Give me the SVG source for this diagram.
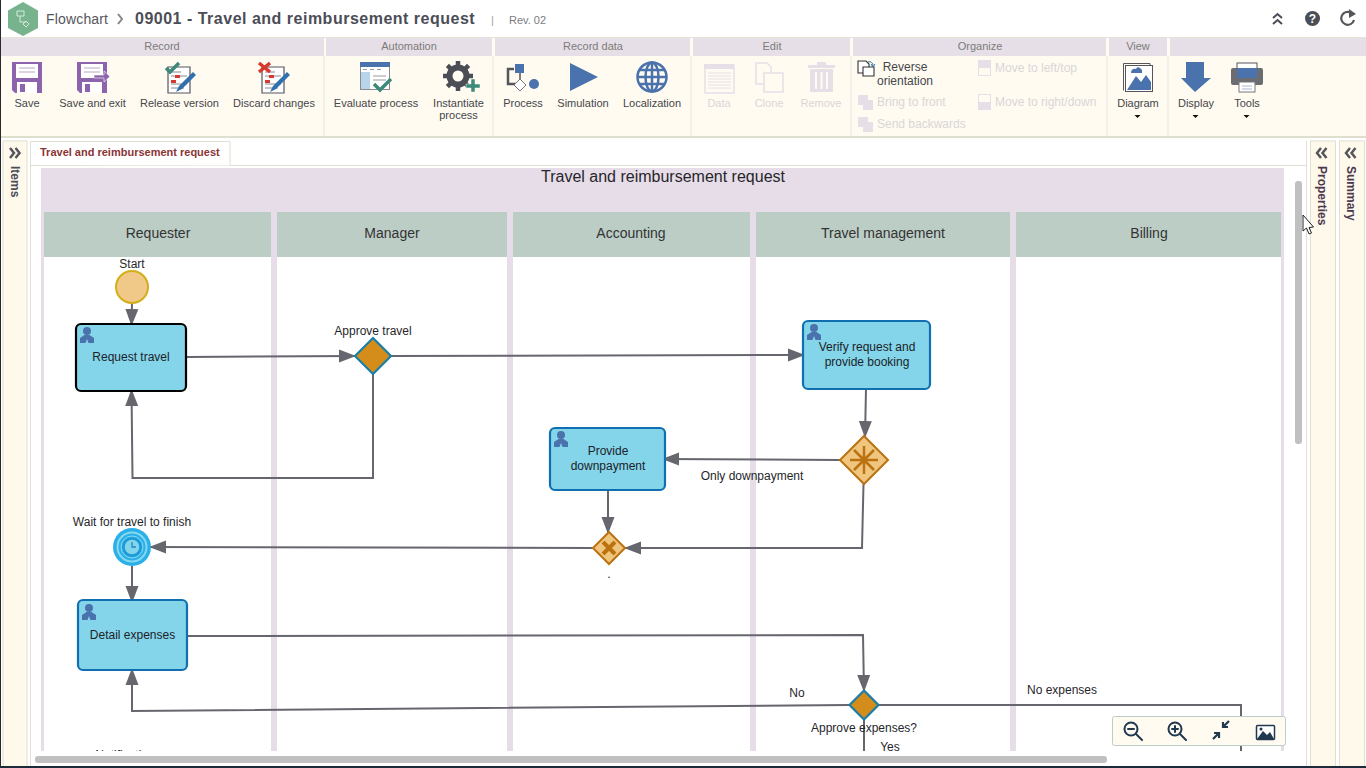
<svg xmlns="http://www.w3.org/2000/svg" xmlns:xlink="http://www.w3.org/1999/xlink" width="1366" height="768" viewBox="0 0 1366 768">
<style>
text{font-family:"Liberation Sans",Arial,sans-serif}
.hd{font-size:11px;fill:#7c7c78;text-anchor:middle}
.tb{font-size:11px;fill:#45464c;text-anchor:middle}
.dis{font-size:11px;fill:#d9d6d8;}
.dis2{font-size:11px;fill:#d9d6d8;text-anchor:middle}
.lane{font-size:14px;fill:#333;text-anchor:middle}
.lb{font-size:12px;fill:#26262a;text-anchor:middle}
.nl{font-size:12px;fill:#1c2228;text-anchor:middle}
.task{fill:#84d5ea;stroke:#0f6fb0;stroke-width:2.2}
.gw{fill:#d48c1a;stroke:#1a7fa8;stroke-width:2.2}
.gw2{fill:#f0c57e;stroke:#bb7211;stroke-width:2}
.cn{fill:none;stroke:#66666e;stroke-width:2;stroke-linejoin:miter}
.blue{fill:#4a72ad}
.pur{fill:#8e63ad}
.gd{fill:#e6dfe8}
.side{fill:#fff9ec;stroke:#e0e0d2}
.zi{fill:none;stroke:#21394f;stroke-width:2;stroke-linecap:round}
</style>
<defs>
<marker id="ar" markerUnits="userSpaceOnUse" markerWidth="19" markerHeight="15" refX="17" refY="7" orient="auto"><path d="M0 0.500L17 7L0 13.500Z" fill="#66666e"/></marker>
<clipPath id="cv"><rect x="30" y="166" width="1262" height="585"/></clipPath>
<g id="person"><circle cx="7" cy="4" r="4" fill="#4a72ad"/><path d="M0 16V11L4.500 8H9.500L14 11V16H8.500L7 12L5.500 16Z" fill="#4a72ad"/></g>
<g id="doc"><path d="M2 6H24V32H2Z" fill="#fff" stroke="#55565c" stroke-width="1.200"/><path d="M5 11H15M5 15H11M13 15H21M5 23H21M5 27H18" stroke="#8a8a90" fill="none"/><rect x="9" y="14" width="5" height="3" fill="#d8392e"/><rect x="5" y="19" width="5" height="3" fill="#d8392e"/><path d="M10 31L13 25L27 11L30 14L16 28Z" fill="#2f70ad"/></g>
<g id="floppy"><path d="M0 0H30V31H3L0 28Z" class="pur"/><rect x="4" y="2" width="22" height="14" fill="#fff"/><path d="M7 6H23M7 10H23" stroke="#b9a7c6"/><rect x="5" y="20" width="20" height="11" fill="#fff"/><rect x="8" y="22" width="5" height="8" class="pur"/></g>
</defs>

<rect width="1366" height="768" fill="#fff"/>

<g id="titlebar">
<path d="M23 2L38 10.500V28L23 36L8 28V10.500Z" fill="#77b48d"/>
<path d="M17 11H24V16H17ZM20 16V22H26M23 24L26 21L29 24L26 27Z" fill="none" stroke="#d5ebdc"/>
<text x="46" y="24" font-size="14" fill="#55565c" textLength="62">Flowchart</text>
<path d="M118 14L122 19L118 24" fill="none" stroke="#85858a" stroke-width="2"/>
<text x="135" y="24" font-size="16" font-weight="bold" fill="#4b4d57" letter-spacing=".5">09001 - Travel and reimbursement request</text>
<text x="491" y="24" font-size="11" fill="#a0a4a0">|</text>
<text x="509" y="24" font-size="11" fill="#7c7c80">Rev. 02</text>
<path d="M1273 18L1277.500 14L1282 18M1273 24L1277.500 20L1282 24" fill="none" stroke="#4b4d57" stroke-width="2"/>
<circle cx="1312.500" cy="18.500" r="7.500" fill="#4b4d57"/>
<text x="1312.500" y="23" font-size="12" font-weight="bold" fill="#fff" text-anchor="middle">?</text>
<path d="M1354 20A6.500 6.500 0 1 1 1351.500 13" fill="none" stroke="#55565c" stroke-width="2.200"/>
<path d="M1349 9L1356 14L1349 18Z" fill="#55565c"/>
</g>

<g id="ribbon">
<rect x="0" y="37" width="1366" height="100" fill="#fffbf0"/>
<rect x="0" y="37" width="1366" height="1" fill="#e6e4d8"/>
<rect x="0" y="136" width="1366" height="2" fill="#dfdfcf"/>
<g fill="#e6dfe8">
<rect x="1" y="38" width="323" height="18"/><rect x="326" y="38" width="166" height="18"/><rect x="495" y="38" width="195" height="18"/><rect x="693" y="38" width="157" height="18"/><rect x="853" y="38" width="253" height="18"/><rect x="1109" y="38" width="58" height="18"/><rect x="1170" y="38" width="196" height="18"/>
</g>
<g fill="#e8e6e4">
<rect x="323.500" y="56" width="1" height="80"/><rect x="492.500" y="56" width="1" height="80"/><rect x="690.500" y="56" width="1" height="80"/><rect x="850.500" y="56" width="1" height="80"/><rect x="1106.500" y="56" width="1" height="80"/><rect x="1167.500" y="56" width="1" height="80"/>
</g>
<text class="hd" x="162" y="50">Record</text>
<text class="hd" x="409" y="50">Automation</text>
<text class="hd" x="593" y="50">Record data</text>
<text class="hd" x="772" y="50">Edit</text>
<text class="hd" x="980" y="50">Organize</text>
<text class="hd" x="1138" y="50">View</text>

<use xlink:href="#floppy" x="12" y="62"/>
<use xlink:href="#floppy" x="77" y="62"/>
<path d="M94 75H104V71L110 76.500L104 82V78H94Z" fill="#8e63ad" stroke="#fff" stroke-width=".6"/>
<use xlink:href="#doc" x="166" y="61"/>
<path d="M166 68L170 72L179 63" fill="none" stroke="#3d8a7a" stroke-width="3.500"/>
<use xlink:href="#doc" x="260" y="61"/>
<path d="M259 63L270 72M270 63L259 72" fill="none" stroke="#d8392e" stroke-width="3.500"/>
<text class="tb" x="27" y="107">Save</text>
<text class="tb" x="92.500" y="107">Save and exit</text>
<text class="tb" x="179.500" y="107">Release version</text>
<text class="tb" x="274" y="107">Discard changes</text>

<rect x="360.500" y="62.500" width="29" height="27" fill="#fff" stroke="#8a8a90"/>
<rect x="360" y="62" width="30" height="5" fill="#4a72ad"/>
<rect x="361" y="72" width="9" height="17" fill="#b8d4ea"/>
<path d="M363 69.500H367M370 69.500H374M377 69.500H381M373 76H386M373 80H386" stroke="#9a9aa0"/>
<path d="M374 84L380 90L391 79" fill="none" stroke="#3d8a7a" stroke-width="3.500"/>
<g transform="translate(458 76)"><path d="M0-15V15M-15 0H15M-10.600-10.600L10.600 10.600M-10.600 10.600L10.600-10.600" stroke="#4b4d57" stroke-width="4.500"/><circle r="8.500" fill="none" stroke="#4b4d57" stroke-width="6"/><circle r="5.500" fill="#fffbf0"/></g>
<path d="M466 84H471V79H475V84H480V88H475V92H471V88H466Z" fill="#3d8a7a" stroke="#fffbf0" stroke-width=".5"/>
<text class="tb" x="376" y="107">Evaluate process</text>
<text class="tb" x="458.500" y="107">Instantiate</text>
<text class="tb" x="458.500" y="119">process</text>

<path d="M514 69H508V84H519" fill="none" stroke="#55565c" stroke-width="2.500"/>
<rect x="515" y="64" width="9" height="9" class="blue"/>
<path d="M520 73V80" stroke="#55565c" stroke-width="1.500"/>
<path d="M520 79L526 85L520 91L514 85Z" fill="#fff" stroke="#77777c"/>
<circle cx="534" cy="84" r="5" class="blue"/>
<path d="M570 63L598 77L570 91Z" class="blue"/>
<g transform="translate(652 77)" fill="none" stroke="#4a72ad" stroke-width="2.500"><circle r="14.500"/><ellipse rx="6.500" ry="14.500"/><path d="M0-14.500V14.500M-14.500 0H14.500M-12.500-7H12.500M-12.500 7H12.500"/></g>
<text class="tb" x="523" y="107">Process</text>
<text class="tb" x="583" y="107">Simulation</text>
<text class="tb" x="652" y="107">Localization</text>

<rect x="705" y="65" width="29" height="28" fill="none" stroke="#e6dfe8" stroke-width="1.500"/>
<rect x="704" y="64" width="30" height="5" class="gd"/>
<path d="M708 73H731M708 76H731M708 79H731M708 82H731M708 85H731M708 88H731" stroke="#e6dfe8"/>
<path d="M756 63H767L771 67V84H756Z" fill="#fffbf0" stroke="#e6dfe8" stroke-width="1.500"/>
<path d="M764 73H775L783 73V92H764Z" fill="#fffbf0" stroke="#e6dfe8" stroke-width="1.500"/>
<path d="M808 65H835V68H808Z" class="gd"/><rect x="817" y="62" width="9" height="3" class="gd"/>
<path d="M810 69H833V92H810Z" class="gd"/>
<path d="M816 72V89M821.500 72V89M827 72V89" stroke="#fffbf0" stroke-width="2"/>
<text class="dis2" x="719" y="107">Data</text>
<text class="dis2" x="769" y="107">Clone</text>
<text class="dis2" x="821" y="107">Remove</text>

<path d="M858 61H866L869 64V73H858Z" fill="#fff" stroke="#333" stroke-width="1.100"/>
<path d="M863 67H874V76H863Z" fill="#fff" stroke="#333" stroke-width="1.100"/>
<path d="M868 62C871 61 873 63 873 66M871 64L873 67L875 64" fill="none" stroke="#2f70ad"/>
<text class="tb" x="905" y="71" style="font-size:12px">Reverse</text>
<text class="tb" x="905" y="85" style="font-size:12px">orientation</text>
<path d="M858 95H868V100H873V110H863V105H858Z" class="gd"/>
<path d="M858 117H868V122H873V132H863V127H858Z" class="gd"/>
<text class="dis" x="877" y="106" style="font-size:12px">Bring to front</text>
<text class="dis" x="877" y="128" style="font-size:12px">Send backwards</text>
<rect x="978.500" y="60.500" width="12" height="15" fill="none" stroke="#e6dfe8"/><rect x="978" y="61" width="12" height="7" class="gd"/>
<rect x="978.500" y="94.500" width="12" height="15" fill="none" stroke="#e6dfe8"/><rect x="978" y="102" width="12" height="8" class="gd"/>
<text class="dis" x="995" y="72" style="font-size:12px">Move to left/top</text>
<text class="dis" x="995" y="106" style="font-size:12px">Move to right/down</text>

<path d="M1123.500 63.500H1150V66" fill="none" stroke="#55565c"/><path d="M1123.500 63.500V90.500" fill="none" stroke="#55565c"/>
<rect x="1125.500" y="65.500" width="27" height="26" fill="#fff" stroke="#55565c"/>
<path d="M1127 90L1136 76L1141 82L1146 75L1151 82V90Z" class="blue"/>
<path d="M1131 73H1142V70C1140 67 1137 66 1136 69C1133 68 1131 70 1131 73Z" class="blue"/>
<path d="M1186 62H1204V78H1211L1195 92L1181 78H1186Z" class="blue"/>
<rect x="1231" y="68" width="32" height="17" rx="2" fill="#6b6c72"/>
<rect x="1237" y="63" width="20" height="6" fill="#fff" stroke="#55565c"/>
<rect x="1237" y="68" width="20" height="10" class="blue"/>
<rect x="1239" y="82" width="16" height="10" fill="#fff" stroke="#77777c"/>
<path d="M1242 86H1252M1242 89H1252" stroke="#a8b4d0"/>
<text class="tb" x="1138" y="107">Diagram</text>
<text class="tb" x="1196" y="107">Display</text>
<text class="tb" x="1247" y="107">Tools</text>
<path d="M1134.500 115H1140.500L1137.500 118Z M1192.500 115H1198.500L1195.500 118Z M1243.500 115H1249.500L1246.500 118Z" fill="#111"/>
</g>

<g id="panels">
<rect class="side" x="3" y="141" width="24" height="627"/>
<path d="M10 148L14 153L10 158M15.500 148L19.500 153L15.500 158" fill="none" stroke="#55565c" stroke-width="2.500"/>
<text transform="translate(11 166) rotate(90)" font-size="12" font-weight="bold" fill="#4b4d57">Items</text>
<path d="M30 165.500H1306" stroke="#e0e0d2"/>
<path d="M30.500 165V141.500H230V165.500" fill="#fff" stroke="#e0e0d2"/>
<text x="40" y="156" font-size="11" font-weight="bold" fill="#8a3535">Travel and reimbursement request</text>
<path d="M30.500 165V768" stroke="#e0e0d2"/>
<path d="M1306.500 141V768" stroke="#e0e0d2"/>
<rect class="side" x="1310.500" y="141" width="25" height="627"/>
<rect class="side" x="1339.500" y="141" width="25" height="627"/>
<path d="M1321 148L1317 153L1321 158M1326.500 148L1322.500 153L1326.500 158" fill="none" stroke="#55565c" stroke-width="2.500"/>
<path d="M1350 148L1346 153L1350 158M1355.500 148L1351.500 153L1355.500 158" fill="none" stroke="#55565c" stroke-width="2.500"/>
<text transform="translate(1318 166) rotate(90)" font-size="12" font-weight="bold" fill="#4b3a50">Properties</text>
<text transform="translate(1347 166) rotate(90)" font-size="12" font-weight="bold" fill="#4b3a50">Summary</text>
</g>

<g clip-path="url(#cv)">
<g id="pool">
<rect x="41" y="168" width="1243" height="583" fill="#e6dde8"/>
<text x="663" y="182" font-size="16" fill="#26262a" text-anchor="middle">Travel and reimbursement request</text>
<g fill="#fff">
<rect x="44" y="257" width="227" height="494"/><rect x="277" y="257" width="230" height="494"/><rect x="513" y="257" width="237" height="494"/><rect x="756" y="257" width="254" height="494"/><rect x="1016" y="257" width="265" height="494"/>
</g>
<g fill="#bccdc6">
<rect x="44" y="212" width="227" height="45"/><rect x="277" y="212" width="230" height="45"/><rect x="513" y="212" width="237" height="45"/><rect x="756" y="212" width="254" height="45"/><rect x="1016" y="212" width="265" height="45"/>
</g>
<text class="lane" x="158" y="238">Requester</text>
<text class="lane" x="392" y="238">Manager</text>
<text class="lane" x="631" y="238">Accounting</text>
<text class="lane" x="883" y="238">Travel management</text>
<text class="lane" x="1149" y="238">Billing</text>
</g>

<g id="connectors">
<path class="cn" d="M132 303L131.500 326" marker-end="url(#ar)"/>
<path class="cn" d="M187 357L356 356" marker-end="url(#ar)"/>
<path class="cn" d="M373 374V478H132.500L131.500 389" marker-end="url(#ar)"/>
<path class="cn" d="M391 356L805 355" marker-end="url(#ar)"/>
<path class="cn" d="M866 389L865 438" marker-end="url(#ar)"/>
<path class="cn" d="M840 460L662 459" marker-end="url(#ar)"/>
<path class="cn" d="M863.500 484L862 548H624" marker-end="url(#ar)"/>
<path class="cn" d="M608 490V534" marker-end="url(#ar)"/>
<path class="cn" d="M593 548L149 547" marker-end="url(#ar)"/>
<path class="cn" d="M132 566V603" marker-end="url(#ar)"/>
<path class="cn" d="M188 636L863 635L864 692" marker-end="url(#ar)"/>
<path class="cn" d="M849 705L132 711V668" marker-end="url(#ar)"/>
<path class="cn" d="M879 705H1241V760"/>
<path class="cn" d="M864 720V760"/>
</g>

<g id="start"><circle cx="132" cy="287" r="16" fill="#f0c888" stroke="#d4ae1a" stroke-width="2"/><text class="lb" x="132" y="268">Start</text></g>
<g id="request-travel"><rect x="76" y="324" width="110" height="67" rx="5" fill="#84d5ea" stroke="#000" stroke-width="2.200"/><use xlink:href="#person" x="80" y="327"/><text class="nl" x="131" y="361">Request travel</text></g>
<g id="approve-travel"><path class="gw" d="M373 338L391 356L373 374L355 356Z"/><text class="lb" x="373" y="335">Approve travel</text></g>
<g id="verify"><rect class="task" x="803" y="321" width="127" height="68" rx="5"/><use xlink:href="#person" x="807" y="324"/><text class="nl" x="867" y="351">Verify request and</text><text class="nl" x="867" y="366">provide booking</text></g>
<g id="complex-gw"><path class="gw2" d="M864 436L888 460L864 484L840 460Z"/><path d="M850 460H878M864 446V474M854 450L874 470M874 450L854 470" fill="none" stroke="#bb7211" stroke-width="2.500"/></g>
<g id="downpayment"><rect class="task" x="550" y="428" width="115" height="62" rx="5"/><use xlink:href="#person" x="554" y="431"/><text class="nl" x="608" y="455">Provide</text><text class="nl" x="608" y="470">downpayment</text></g>
<g id="only-label"><text class="lb" x="752" y="480">Only downpayment</text></g>
<g id="xor-gw"><path class="gw2" d="M609 532L625 548L609 564L593 548Z"/><path d="M603 542L615 554M615 542L603 554" fill="none" stroke="#bb7211" stroke-width="4"/><text class="lb" x="609" y="578">.</text></g>
<g id="wait"><circle cx="132" cy="547" r="19" fill="#2ab0e8"/><circle cx="132" cy="547" r="14.500" fill="none" stroke="#86d8f0" stroke-width="2"/><circle cx="132" cy="547" r="8.500" fill="#84d5ea" stroke="#1e9ad8" stroke-width="2.500"/><circle cx="132" cy="547" r="11" fill="none" stroke="#86d8f0" stroke-width="1"/><path d="M132 542V547H136" fill="none" stroke="#1e8ac8" stroke-width="1.300"/><text class="lb" x="132" y="526">Wait for travel to finish</text></g>
<g id="detail"><rect class="task" x="78" y="600" width="109" height="70" rx="5"/><use xlink:href="#person" x="82" y="604"/><text class="nl" x="132.500" y="639">Detail expenses</text></g>
<g id="approve-expenses"><path class="gw" d="M864 690.500L878.500 705L864 719.500L849.500 705Z"/><text class="lb" x="864" y="732">Approve expenses?</text></g>
<text class="lb" x="797" y="697">No</text>
<text class="lb" x="1062" y="694">No expenses</text>
<text class="lb" x="890" y="751">Yes</text>
<text class="lb" x="125" y="759">Notification</text>
</g>

<g id="zoom-bar">
<rect x="1112.500" y="716.500" width="173" height="29" rx="2" fill="#fffbf0" stroke="#bccdc6"/>
<circle cx="1131" cy="729" r="6.500" class="zi"/><path class="zi" d="M1136 734L1142 740M1128 729H1134"/>
<circle cx="1175" cy="729" r="6.500" class="zi"/><path class="zi" d="M1180 734L1186 740M1172 729H1178M1175 726V732"/>
<path d="M1229 721L1223 727M1223 722V727H1228M1213 739L1219 733M1214 733H1219V738" fill="none" stroke="#21394f" stroke-width="2.200"/>
<rect x="1256.500" y="725.500" width="18" height="14" rx="1" fill="#fff" stroke="#21394f" stroke-width="1.500"/>
<path d="M1257 739L1263 731L1267 735L1270 732L1274 739Z" fill="#21394f"/><circle cx="1261" cy="729" r="1.500" fill="#21394f"/>
</g>

<g id="scrollbars">
<rect x="1295" y="181" width="7" height="263" rx="3" fill="#c0c0c0"/>
<rect x="35" y="756" width="1072" height="7" rx="3" fill="#c0c0c0"/>
<rect x="0" y="766" width="1366" height="2" fill="#1c2b3a"/>
<rect x="0" y="0" width="1" height="768" fill="#2a2a2a"/>
</g>
<path id="cursor" d="M1303 215V231L1306.500 228L1309 234L1311.500 233L1309 227.500L1313.500 227Z" fill="#fff" stroke="#222" stroke-width="1"/>
</svg>
